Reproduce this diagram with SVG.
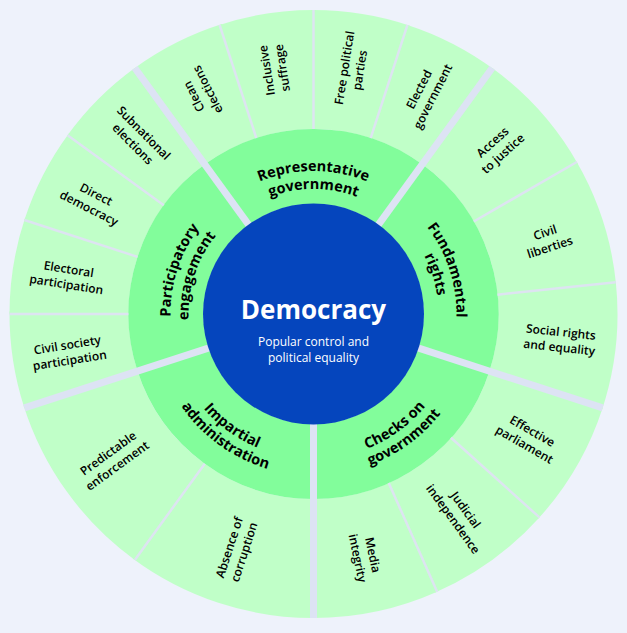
<svg xmlns="http://www.w3.org/2000/svg" width="627" height="633" viewBox="0 0 627 633">
<style>
  .bg{fill:#eef2fb}
  .so{fill:none;stroke:#c0ffc8;stroke-width:119}
  .si{fill:none;stroke:#82fd9b;stroke-width:75}
  .thin{stroke:#dde4f1;stroke-width:2.5}
  .thick{stroke:#dde3f4;stroke-width:7}
  .ol{font-family:"Open Sans","Noto Sans",sans-serif;font-size:12px;font-weight:600;fill:#000;text-anchor:middle}
  .il{font-family:"Open Sans","Noto Sans",sans-serif;font-size:14.5px;font-weight:700;fill:#000;text-anchor:middle}
  .ct{font-family:"Open Sans","Noto Sans",sans-serif;fill:#fff;text-anchor:middle}
</style>
<defs>
  <path id="cw1" d="M221.59,204.45 A143,143 0 0 1 405.41,204.45"/>
  <path id="cw2" d="M233.15,218.24 A125,125 0 0 1 393.85,218.24"/>
  <path id="cc1" d="M220.3,425.08 A145,145 0 0 0 406.7,425.08"/>
  <path id="cc2" d="M210.01,437.33 A161,161 0 0 0 417.99,437.33"/>
</defs>
<rect class="bg" x="0" y="0" width="627" height="633"/>

<g id="outer-ring">
  <g id="clean-elections">
    <circle class="so" cx="313.5" cy="314" r="244.5" pathLength="360" stroke-dasharray="18.5 341.5" transform="rotate(-126 313.5 314)"/>
    <text class="ol" transform="translate(200.91 93.03) rotate(-117)"><tspan x="0" y="-3.75">Clean</tspan><tspan x="0" y="11.75">elections</tspan></text>
  </g>
  <g id="inclusive-suffrage">
    <circle class="so" cx="313.5" cy="314" r="244.5" pathLength="360" stroke-dasharray="18.5 341.5" transform="rotate(-108 313.5 314)"/>
    <text class="ol" transform="translate(274.71 69.05) rotate(-99)"><tspan x="0" y="-3.75">Inclusive</tspan><tspan x="0" y="11.75">suffrage</tspan></text>
  </g>
  <g id="free-political-parties">
    <circle class="so" cx="313.5" cy="314" r="244.5" pathLength="360" stroke-dasharray="18.5 341.5" transform="rotate(-90 313.5 314)"/>
    <text class="ol" transform="translate(352.29 69.05) rotate(-81)"><tspan x="0" y="-3.75">Free political</tspan><tspan x="0" y="11.75">parties</tspan></text>
  </g>
  <g id="elected-government">
    <circle class="so" cx="313.5" cy="314" r="244.5" pathLength="360" stroke-dasharray="18.5 341.5" transform="rotate(-72 313.5 314)"/>
    <text class="ol" transform="translate(426.09 93.03) rotate(-63)"><tspan x="0" y="-3.75">Elected</tspan><tspan x="0" y="11.75">government</tspan></text>
  </g>
  <g id="access-to-justice">
    <circle class="so" cx="313.5" cy="314" r="244.5" pathLength="360" stroke-dasharray="24.5 335.5" transform="rotate(-54 313.5 314)"/>
    <text class="ol" transform="translate(497.8 148.06) rotate(-42)"><tspan x="0" y="-3.75">Access</tspan><tspan x="0" y="11.75">to justice</tspan></text>
  </g>
  <g id="civil-liberties">
    <circle class="so" cx="313.5" cy="314" r="244.5" pathLength="360" stroke-dasharray="24.5 335.5" transform="rotate(-30 313.5 314)"/>
    <text class="ol" transform="translate(547.5 240) rotate(-18)"><tspan x="0" y="-3.75">Civil</tspan><tspan x="0" y="11.75">liberties</tspan></text>
  </g>
  <g id="social-rights">
    <circle class="so" cx="313.5" cy="314" r="244.5" pathLength="360" stroke-dasharray="24.5 335.5" transform="rotate(-6 313.5 314)"/>
    <text class="ol" transform="translate(560.14 339.92) rotate(6)"><tspan x="0" y="-3.75">Social rights</tspan><tspan x="0" y="11.75">and equality</tspan></text>
  </g>
  <g id="effective-parliament">
    <circle class="so" cx="313.5" cy="314" r="244.5" pathLength="360" stroke-dasharray="24.5 335.5" transform="rotate(18 313.5 314)"/>
    <text class="ol" transform="translate(528.28 438) rotate(30)"><tspan x="0" y="-3.75">Effective</tspan><tspan x="0" y="11.75">parliament</tspan></text>
  </g>
  <g id="judicial-independence">
    <circle class="so" cx="313.5" cy="314" r="244.5" pathLength="360" stroke-dasharray="24.5 335.5" transform="rotate(42 313.5 314)"/>
    <text class="ol" transform="translate(459.27 514.64) rotate(54)"><tspan x="0" y="-3.75">Judicial</tspan><tspan x="0" y="11.75">independence</tspan></text>
  </g>
  <g id="media-integrity">
    <circle class="so" cx="313.5" cy="314" r="244.5" pathLength="360" stroke-dasharray="24.5 335.5" transform="rotate(66 313.5 314)"/>
    <text class="ol" transform="translate(365.06 556.58) rotate(78)"><tspan x="0" y="-3.75">Media</tspan><tspan x="0" y="11.75">integrity</tspan></text>
  </g>
  <g id="absence-of-corruption">
    <circle class="so" cx="313.5" cy="314" r="244.5" pathLength="360" stroke-dasharray="36.5 323.5" transform="rotate(90 313.5 314)"/>
    <text class="ol" transform="translate(236.86 549.86) rotate(-72)"><tspan x="0" y="-3.75">Absence of</tspan><tspan x="0" y="11.75">corruption</tspan></text>
  </g>
  <g id="predictable-enforcement">
    <circle class="so" cx="313.5" cy="314" r="244.5" pathLength="360" stroke-dasharray="36.5 323.5" transform="rotate(126 313.5 314)"/>
    <text class="ol" transform="translate(112.86 459.77) rotate(-36)"><tspan x="0" y="-3.75">Predictable</tspan><tspan x="0" y="11.75">enforcement</tspan></text>
  </g>
  <g id="civil-society-participation">
    <circle class="so" cx="313.5" cy="314" r="244.5" pathLength="360" stroke-dasharray="18.5 341.5" transform="rotate(162 313.5 314)"/>
    <text class="ol" transform="translate(68.55 352.79) rotate(-9)"><tspan x="0" y="-3.75">Civil society</tspan><tspan x="0" y="11.75">participation</tspan></text>
  </g>
  <g id="electoral-participation">
    <circle class="so" cx="313.5" cy="314" r="244.5" pathLength="360" stroke-dasharray="18.5 341.5" transform="rotate(180 313.5 314)"/>
    <text class="ol" transform="translate(67.5 277) rotate(9)"><tspan x="0" y="-3.75">Electoral</tspan><tspan x="0" y="11.75">participation</tspan></text>
  </g>
  <g id="direct-democracy">
    <circle class="so" cx="313.5" cy="314" r="244.5" pathLength="360" stroke-dasharray="18.5 341.5" transform="rotate(198 313.5 314)"/>
    <text class="ol" transform="translate(92.53 201.41) rotate(27)"><tspan x="0" y="-3.75">Direct</tspan><tspan x="0" y="11.75">democracy</tspan></text>
  </g>
  <g id="subnational-elections">
    <circle class="so" cx="313.5" cy="314" r="244.5" pathLength="360" stroke-dasharray="18 342" transform="rotate(216 313.5 314)"/>
    <text class="ol" transform="translate(138.14 138.64) rotate(45)"><tspan x="0" y="-3.75">Subnational</tspan><tspan x="0" y="11.75">elections</tspan></text>
  </g>
</g>

<g id="inner-ring">
  <g id="representative-government">
    <circle class="si" cx="313.5" cy="314" r="147.5" pathLength="360" stroke-dasharray="72.5 287.5" transform="rotate(-126 313.5 314)"/>
    <text class="il"><textPath href="#cw1" startOffset="50%">Representative</textPath></text>
    <text class="il"><textPath href="#cw2" startOffset="50%">government</textPath></text>
  </g>
  <g id="fundamental-rights">
    <circle class="si" cx="313.5" cy="314" r="147.5" pathLength="360" stroke-dasharray="72.5 287.5" transform="rotate(-54 313.5 314)"/>
    <text class="il" transform="rotate(72 313.5 314)"><textPath href="#cw1" startOffset="50%">Fundamental</textPath></text>
    <text class="il" transform="rotate(72 313.5 314)"><textPath href="#cw2" startOffset="50%">rights</textPath></text>
  </g>
  <g id="checks-on-government">
    <circle class="si" cx="313.5" cy="314" r="147.5" pathLength="360" stroke-dasharray="72.5 287.5" transform="rotate(18 313.5 314)"/>
    <text class="il" transform="rotate(-36 313.5 314)"><textPath href="#cc1" startOffset="50%">Checks on</textPath></text>
    <text class="il" transform="rotate(-36 313.5 314)"><textPath href="#cc2" startOffset="50%">government</textPath></text>
  </g>
  <g id="impartial-administration">
    <circle class="si" cx="313.5" cy="314" r="147.5" pathLength="360" stroke-dasharray="72.5 287.5" transform="rotate(90 313.5 314)"/>
    <text class="il" transform="rotate(36 313.5 314)"><textPath href="#cc1" startOffset="50%">Impartial</textPath></text>
    <text class="il" transform="rotate(36 313.5 314)"><textPath href="#cc2" startOffset="50%">administration</textPath></text>
  </g>
  <g id="participatory-engagement">
    <circle class="si" cx="313.5" cy="314" r="147.5" pathLength="360" stroke-dasharray="72 288" transform="rotate(162 313.5 314)"/>
    <text class="il" transform="rotate(-72 313.5 314)"><textPath href="#cw1" startOffset="50%">Participatory</textPath></text>
    <text class="il" transform="rotate(-72 313.5 314)"><textPath href="#cw2" startOffset="50%">engagement</textPath></text>
  </g>
</g>

<g id="separators">
  <line class="thin" x1="256.33" y1="138.05" x2="219.56" y2="24.88"/>
  <line class="thin" x1="313.5" y1="129" x2="313.5" y2="10"/>
  <line class="thin" x1="370.67" y1="138.05" x2="407.44" y2="24.88"/>
  <line class="thin" x1="473.72" y1="221.5" x2="576.77" y2="162"/>
  <line class="thin" x1="497.49" y1="294.66" x2="615.83" y2="282.22"/>
  <line class="thin" x1="450.98" y1="437.79" x2="539.41" y2="517.42"/>
  <line class="thin" x1="388.75" y1="483.01" x2="437.15" y2="591.72"/>
  <line class="thin" x1="204.76" y1="463.67" x2="134.81" y2="559.94"/>
  <line class="thin" x1="128.5" y1="314" x2="9.5" y2="314"/>
  <line class="thin" x1="137.55" y1="256.83" x2="24.38" y2="220.06"/>
  <line class="thin" x1="163.83" y1="205.26" x2="67.56" y2="135.31"/>
  <line class="thick" x1="249.43" y1="225.82" x2="134.81" y2="68.06"/>
  <line class="thick" x1="377.57" y1="225.82" x2="492.19" y2="68.06"/>
  <line class="thick" x1="417.17" y1="347.68" x2="602.62" y2="407.94"/>
  <line class="thick" x1="313.5" y1="423" x2="313.5" y2="618"/>
  <line class="thick" x1="209.83" y1="347.68" x2="24.38" y2="407.94"/>
</g>

<g id="democracy">
  <circle cx="313.5" cy="314" r="110.5" fill="#0545bd"/>
  <text class="ct" x="313.5" y="318.5" font-size="26" font-weight="700">Democracy</text>
  <text class="ct" x="313.5" y="346" font-size="12">Popular control and</text>
  <text class="ct" x="313.5" y="362" font-size="12">political equality</text>
</g>
</svg>
